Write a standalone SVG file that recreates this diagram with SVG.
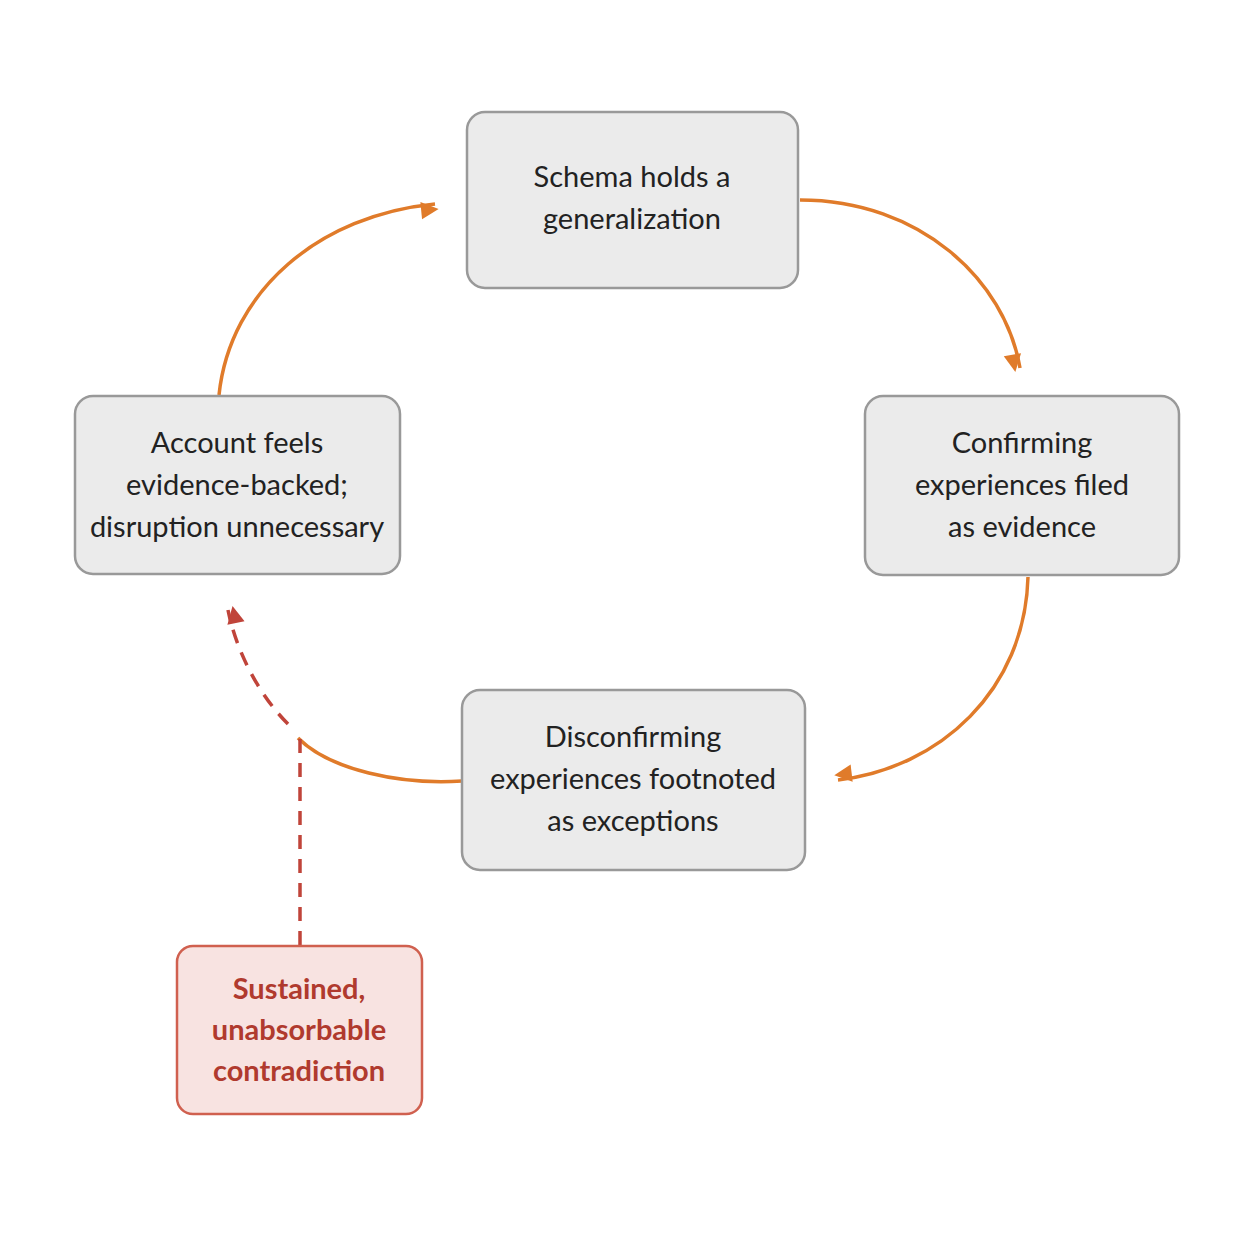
<svg xmlns="http://www.w3.org/2000/svg" width="1254" height="1254" viewBox="0 0 1254 1254">
<style>
.n{fill:#ebebeb;stroke:#999;stroke-width:2.5}
.t{font-family:Lato,"Open Sans",sans-serif;font-size:29px;fill:#222;text-anchor:middle}
.r{fill:#f8e3e1;stroke:#d0604f;stroke-width:2.5}
.rt{font-family:Lato,"Open Sans",sans-serif;font-size:29px;font-weight:bold;fill:#b03a2e;text-anchor:middle}
.c{fill:none;stroke:#e07b2a;stroke-width:3.5}
.d{fill:none;stroke:#c0443a;stroke-width:3.5;stroke-dasharray:14 10}
</style>
<defs>
<marker id="a" viewBox="0 0 10 10" refX="8" refY="5" markerWidth="7" markerHeight="7" markerUnits="userSpaceOnUse" orient="auto" style="overflow:visible"><path d="M0,0 L10,5 L0,10 z" fill="#e07b2a" transform="scale(2.5) translate(-5,-0)"/></marker>
<marker id="b" viewBox="0 0 10 10" refX="8" refY="5" markerWidth="7" markerHeight="7" markerUnits="userSpaceOnUse" orient="auto" style="overflow:visible"><path d="M0,0 L10,5 L0,10 z" fill="#c0443a" transform="scale(2.5) translate(-5,-0)"/></marker>
</defs>
<g id="connectors">
<path class="c" d="M800,200 C920,200 1005,280 1020,368" marker-end="url(#a)"/>
<path class="c" d="M1028,577 C1025,690 940,768 838,780" marker-end="url(#a)"/>
<path class="c" d="M462,781 C400,785 330,770 298,738"/>
<path class="c" d="M219,395 C230,290 320,215 435,204" marker-end="url(#a)"/>
<path class="d" d="M300,945 L300,735"/>
<path class="d" d="M288,724 C258,694 236,650 228,610" marker-end="url(#b)"/>
</g>
<g id="top"><rect class="n" x="467" y="112" width="331" height="176" rx="18"/>
<text class="t" x="632" y="187">Schema holds a</text><text class="t" x="632" y="229">generalization</text></g>
<g id="right"><rect class="n" x="865" y="396" width="314" height="179" rx="18"/>
<text class="t" x="1022" y="453">Confirming</text><text class="t" x="1022" y="495">experiences filed</text><text class="t" x="1022" y="537">as evidence</text></g>
<g id="bottom"><rect class="n" x="462" y="690" width="343" height="180" rx="18"/>
<text class="t" x="633" y="747">Disconfirming</text><text class="t" x="633" y="789">experiences footnoted</text><text class="t" x="633" y="831">as exceptions</text></g>
<g id="left"><rect class="n" x="75" y="396" width="325" height="178" rx="18"/>
<text class="t" x="237" y="453">Account feels</text><text class="t" x="237" y="495">evidence-backed;</text><text class="t" x="237" y="537">disruption unnecessary</text></g>
<g id="red"><rect class="r" x="177" y="946" width="245" height="168" rx="16"/>
<text class="rt" x="299" y="999">Sustained,</text><text class="rt" x="299" y="1040">unabsorbable</text><text class="rt" x="299" y="1081">contradiction</text></g>
</svg>
